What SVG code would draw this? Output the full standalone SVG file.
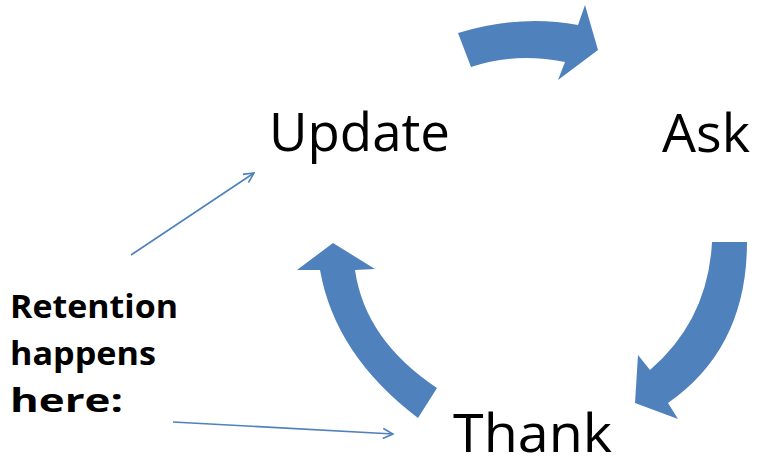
<svg xmlns="http://www.w3.org/2000/svg" width="760" height="462" viewBox="0 0 760 462">
<style>
.big{font-family:"Open Sans","Liberation Sans",sans-serif;font-size:53px;fill:#000}
.note{font-family:"Open Sans","Liberation Sans",sans-serif;font-size:33px;font-weight:bold;fill:#000}
.curve{fill:#4F81BD}
.thin{stroke:#4F81BD;stroke-width:1.6;fill:none}
</style>
<defs>
<marker id="open" viewBox="0 0 12 12" refX="11" refY="6" markerWidth="12" markerHeight="12" markerUnits="userSpaceOnUse" orient="auto">
<path d="M1,1 L11,6 L1,11" fill="none" stroke="#4F81BD" stroke-width="1.6"/>
</marker>
</defs>
<rect width="760" height="462" fill="#fff"/>
<g id="update"><text class="big" x="269" y="151" textLength="181" lengthAdjust="spacingAndGlyphs">Update</text></g>
<g id="ask"><text class="big" x="662" y="152" textLength="88" lengthAdjust="spacingAndGlyphs">Ask</text></g>
<g id="thank"><text class="big" x="453" y="452" textLength="159" lengthAdjust="spacingAndGlyphs">Thank</text></g>
<g id="retention">
<text class="note" x="10" y="318" textLength="168" lengthAdjust="spacingAndGlyphs">Retention</text>
<text class="note" x="10" y="365" textLength="146" lengthAdjust="spacingAndGlyphs">happens</text>
<text class="note" x="10" y="412" textLength="113" lengthAdjust="spacingAndGlyphs">here:</text>
</g>
<g id="connectors">
<path class="curve" d="M458,33 Q520,14 578,25 L585,5 L598,50 L558,80 L565,62 Q515,52 471,67 Z"/>
<path class="curve" d="M712,242 L747,242 Q747,348 668,403 L678,419 L635,403 L638,355 L650,370 Q708,320 712,242 Z"/>
<path class="curve" d="M333,243 L375,269 L355,270 Q365,340 437,388 L418,418 Q335,355 320,270 L297,270 Z"/>
<line class="thin" x1="131" y1="255" x2="254" y2="173" marker-end="url(#open)"/>
<line class="thin" x1="173" y1="422" x2="393" y2="434" marker-end="url(#open)"/>
</g>
</svg>
